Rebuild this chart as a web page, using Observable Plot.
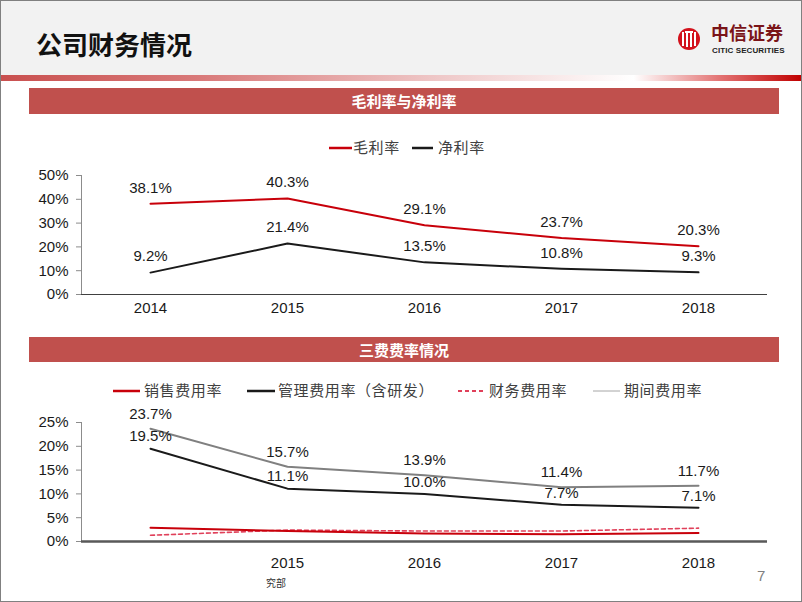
<!DOCTYPE html>
<html><head><meta charset="utf-8">
<script src="https://cdn.jsdelivr.net/npm/d3@7"></script>
<script src="https://cdn.jsdelivr.net/npm/@observablehq/plot@0.6"></script>
<style>
html,body{margin:0;padding:0;background:#fff;}
#page{position:relative;width:802px;height:602px;overflow:hidden;background:#fff;font-family:"Liberation Sans",Arial,sans-serif;}
.abs{position:absolute;}
.cjk{font-family:"Noto Sans CJK SC","Noto Sans",sans-serif;}
.banner{position:absolute;left:29px;width:750px;background:#c0504d;color:#fff;font-weight:bold;font-size:15px;text-align:center;}
.leg{position:absolute;font-size:15px;color:#404040;line-height:20px;white-space:nowrap;letter-spacing:0.6px;}
.chart{position:absolute;left:0;}
</style></head><body>
<div id="page">
  <div class="abs" style="left:0;top:0;width:802px;height:75px;background:#f2f2f2;"></div>
  <div class="abs" style="left:0;top:75px;width:802px;height:6px;background:linear-gradient(to right,#c9504f 0%,#d97a7a 25%,#efc9c9 55%,#ffffff 79%,#e27070 90%,#c00000 100%);"></div>
  <div class="abs cjk" style="left:36px;top:26px;font-size:26px;font-weight:bold;color:#111;line-height:36px;">公司财务情况</div>
  <svg class="abs" style="left:676px;top:26px;" width="26" height="26" viewBox="0 0 26 26">
    <circle cx="13" cy="13" r="11" fill="#d3121c"/>
    <rect x="6" y="6" width="2" height="14" fill="#fff"/>
    <rect x="10" y="5" width="2" height="16" fill="#fff"/>
    <rect x="14" y="5" width="2" height="16" fill="#fff"/>
    <rect x="18" y="6" width="2" height="14" fill="#fff"/>
    <rect x="9" y="5" width="8" height="2" fill="#fff"/>
  </svg>
  <div class="abs cjk" style="left:711px;top:21px;font-size:18px;font-weight:bold;color:#7a1418;line-height:22px;">中信证券</div>
  <div class="abs" style="left:712px;top:46px;font-size:8px;font-weight:bold;color:#222;line-height:9px;letter-spacing:0.1px;">CITIC SECURITIES</div>

  <div class="banner cjk" style="top:88px;height:26px;line-height:26px;">毛利率与净利率</div>
  <div class="banner cjk" style="top:337px;height:25px;line-height:25px;">三费费率情况</div>

  <div id="legendTop"></div>
  <div id="legendBottom"></div>

  <div id="chartTop" class="chart" style="top:160px;"></div>
  <div id="chartBottom" class="chart" style="top:400px;"></div>

  <div class="abs cjk" style="left:266px;top:576px;font-size:10px;color:#333;line-height:14px;">究部</div>
  <div class="abs" style="left:757px;top:567px;font-size:15px;color:#7f7f7f;line-height:18px;">7</div>
  <div class="abs" style="left:0;top:0;width:802px;height:602px;box-sizing:border-box;border:1px solid #808080;pointer-events:none;"></div>
</div>
<script>
// ---- data ----
const years = ["2014", "2015", "2016", "2017", "2018"];
const grossMargin = [38.1, 40.3, 29.1, 23.7, 20.3];   // 毛利率
const netMargin = [9.2, 21.4, 13.5, 10.8, 9.3];        // 净利率
const sellingRate = [2.9, 2.2, 1.7, 1.5, 1.8];         // 销售费用率
const adminRate = [19.5, 11.1, 10.0, 7.7, 7.1];        // 管理费用率（含研发）
const financeRate = [1.3, 2.4, 2.2, 2.2, 2.8];         // 财务费用率
const periodRate = [23.7, 15.7, 13.9, 11.4, 11.7];     // 期间费用率
const topTicks = [0, 10, 20, 30, 40, 50];
const bottomTicks = [0, 5, 10, 15, 20, 25];
const bottomXLabels = ["", "2015", "2016", "2017", "2018"];
const topLegend = ["毛利率", "净利率"];
const bottomLegend = ["销售费用率", "管理费用率（含研发）", "财务费用率", "期间费用率"];

const RED = "#c8000a", BLACK = "#1a1a1a", GRAY = "#808080", PINK = "#e0405a";
const pct = v => v.toFixed(1) + "%";
const baseStyle = {fontFamily: "'Liberation Sans', Arial, sans-serif", fontSize: "15px", color: "#1a1a1a", background: "transparent", overflow: "visible"};

// ---- legends ----
function legend(containerId, items, y) {
  const c = document.getElementById(containerId);
  items.forEach(it => {
    const s = document.createElementNS("http://www.w3.org/2000/svg", "svg");
    s.setAttribute("width", it.x2 - it.x1);
    s.setAttribute("height", 6);
    s.style.position = "absolute";
    s.style.left = it.x1 + "px";
    s.style.top = (y - 3) + "px";
    const l = document.createElementNS("http://www.w3.org/2000/svg", "line");
    l.setAttribute("x1", 0); l.setAttribute("x2", it.x2 - it.x1);
    l.setAttribute("y1", 3); l.setAttribute("y2", 3);
    l.setAttribute("stroke", it.stroke);
    l.setAttribute("stroke-width", it.w);
    if (it.dash) l.setAttribute("stroke-dasharray", it.dash);
    s.appendChild(l);
    c.appendChild(s);
    const t = document.createElement("div");
    t.className = "leg cjk";
    t.style.left = it.tx + "px";
    t.style.top = (y - 11) + "px";
    t.textContent = it.label;
    c.appendChild(t);
  });
}
legend("legendTop", [
  {x1: 329, x2: 352, stroke: RED, w: 2.5, tx: 353, label: topLegend[0]},
  {x1: 412, x2: 433, stroke: BLACK, w: 2.5, tx: 438, label: topLegend[1]}
], 148);
legend("legendBottom", [
  {x1: 113, x2: 140, stroke: RED, w: 2.5, tx: 144, label: bottomLegend[0]},
  {x1: 247, x2: 275, stroke: BLACK, w: 2.5, tx: 278, label: bottomLegend[1]},
  {x1: 458, x2: 484, stroke: PINK, w: 2, dash: "4,3", tx: 489, label: bottomLegend[2]},
  {x1: 593, x2: 620, stroke: "#a6a6a6", w: 1, tx: 624, label: bottomLegend[3]}
], 391);

// ---- top chart ----
const topData = years.map((y, i) => ({year: y, gross: grossMargin[i], net: netMargin[i]}));
const topChart = Plot.plot({
  width: 802, height: 160,
  marginLeft: 81, marginRight: 35, marginTop: 15, marginBottom: 26,
  style: baseStyle,
  x: {type: "point", domain: years, padding: 0.5, label: null},
  y: {domain: [0, 50], label: null},
  marks: [
    Plot.frame({anchor: "left", stroke: "#8c8c8c"}),
    Plot.axisY({ticks: topTicks, tickSize: 5, tickPadding: 8, tickFormat: d => d + "%", label: null, stroke: "#8c8c8c"}),
    Plot.axisX({tickSize: 0, tickPadding: 8, label: null}),
    Plot.ruleY([0], {stroke: "#404040", strokeWidth: 1.2}),
    Plot.line(topData, {x: "year", y: "gross", stroke: RED, strokeWidth: 2}),
    Plot.line(topData, {x: "year", y: "net", stroke: BLACK, strokeWidth: 2}),
    Plot.text(topData, {x: "year", y: "gross", text: d => pct(d.gross), dy: -16, fill: "#1a1a1a"}),
    Plot.text(topData, {x: "year", y: "net", text: d => pct(d.net), dy: -16, fill: "#1a1a1a"})
  ]
});
document.getElementById("chartTop").appendChild(topChart);

// ---- bottom chart ----
const botData = years.map((y, i) => ({year: y, selling: sellingRate[i], admin: adminRate[i], finance: financeRate[i], period: periodRate[i]}));
const bottomChart = Plot.plot({
  width: 802, height: 175,
  marginLeft: 81, marginRight: 35, marginTop: 22, marginBottom: 34,
  style: baseStyle,
  x: {type: "point", domain: years, padding: 0.5, label: null},
  y: {domain: [0, 25], label: null},
  marks: [
    Plot.frame({anchor: "left", stroke: "#8c8c8c"}),
    Plot.axisY({ticks: bottomTicks, tickSize: 5, tickPadding: 8, tickFormat: d => d + "%", label: null, stroke: "#8c8c8c"}),
    Plot.axisX({tickSize: 0, tickPadding: 16, label: null, tickFormat: d => bottomXLabels[years.indexOf(d)]}),
    Plot.line(botData, {x: "year", y: "period", stroke: GRAY, strokeWidth: 2}),
    Plot.line(botData, {x: "year", y: "admin", stroke: BLACK, strokeWidth: 2}),
    Plot.line(botData, {x: "year", y: "finance", stroke: PINK, strokeWidth: 1.6, strokeDasharray: "4,3"}),
    Plot.line(botData, {x: "year", y: "selling", stroke: RED, strokeWidth: 2}),
    Plot.ruleY([0], {stroke: "#595959", strokeWidth: 2.5}),
    Plot.text(botData, {x: "year", y: "period", text: d => pct(d.period), dy: -15, fill: "#1a1a1a"}),
    Plot.text(botData, {x: "year", y: "admin", text: d => pct(d.admin), dy: -12, fill: "#1a1a1a"})
  ]
});
document.getElementById("chartBottom").appendChild(bottomChart);
</script>
</body></html>
